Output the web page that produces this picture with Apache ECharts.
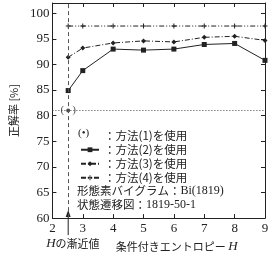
<!DOCTYPE html>
<html>
<head>
<meta charset="utf-8">
<script src="https://cdn.jsdelivr.net/npm/echarts@6/dist/echarts.min.js"></script>
<style>
  html, body {margin: 0; padding: 0; background: #fff;}
  #chart {width: 279px; height: 258px;}
</style>
</head>
<body>
<div id="chart"></div>
<script>
// x positions of the measured points (first one = asymptotic value of H)
const xValues = [2.52, 3, 4, 5, 6, 7, 8, 9];
const method1 = [[2.52, 81]];
const method2 = [84.9, 88.8, 93.0, 92.8, 93.0, 93.9, 94.1, 90.8];
const method3 = [91.4, 93.2, 94.2, 94.6, 94.4, 95.3, 95.5, 94.7];
const method4 = [97.5, 97.5, 97.5, 97.5, 97.5, 97.5, 97.5, 97.5];
const asymptoteH = 2.52;
const names = ['：方法(1)を使用', '：方法(2)を使用', '：方法(3)を使用', '：方法(4)を使用'];

const ink = '#222';
const serif = 'Liberation Serif';
const jp = 'Noto Sans CJK JP';
const plusIcon = 'path://M2,0h1v2h2v1h-2v2h-1v-2h-2v-1h2z';

const toPairs = (vals) => xValues.map((x, i) => [x, vals[i]]);

const myChart = echarts.init(document.getElementById('chart'), null, {renderer: 'canvas'});
myChart.setOption({
  backgroundColor: '#fff',
  animation: false,
  grid: {left: 43.5, right: 14, top: 3, bottom: 39},
  legend: {
    left: 75,
    top: 125,
    orient: 'vertical',
    itemWidth: 18,
    itemHeight: 6,
    itemGap: 2.5,
    textStyle: {fontFamily: jp, fontSize: 11.5, color: ink},
    data: [
      {name: names[0], icon: 'none'},
      {name: names[1]},
      {name: names[2]},
      {name: names[3]}
    ]
  },
  xAxis: [
    {
      type: 'value',
      min: 2,
      max: 9,
      interval: 1,
      name: '条件付きエントロピー {i|H}',
      nameLocation: 'middle',
      nameGap: 20,
      nameTextStyle: {
        fontFamily: jp, fontSize: 11, color: ink, padding: [0, 0, 0, 36],
        rich: {i: {fontFamily: serif, fontStyle: 'italic', fontSize: 13, color: ink}}
      },
      axisLine: {show: true, lineStyle: {color: ink, width: 1}},
      axisTick: {show: true, inside: true, length: 4, lineStyle: {color: ink}},
      axisLabel: {fontFamily: serif, fontSize: 13, color: ink, margin: 4},
      splitLine: {show: false}
    },
    {
      type: 'value',
      position: 'top',
      min: 2,
      max: 9,
      interval: 1,
      axisLine: {show: true, lineStyle: {color: ink, width: 1}},
      axisTick: {show: true, inside: true, length: 4, lineStyle: {color: ink}},
      axisLabel: {show: false},
      splitLine: {show: false}
    }
  ],
  yAxis: [
    {
      type: 'value',
      min: 60,
      max: 102,
      interval: 5,
      name: '正解率 [%]',
      nameLocation: 'middle',
      nameGap: 25,
      nameTextStyle: {fontFamily: jp, fontSize: 11, color: ink},
      axisLine: {show: true, lineStyle: {color: ink, width: 1}},
      axisTick: {show: true, inside: true, length: 4, lineStyle: {color: ink}},
      axisLabel: {fontFamily: serif, fontSize: 13, color: ink, margin: 3, showMaxLabel: false},
      splitLine: {show: false}
    },
    {
      type: 'value',
      position: 'right',
      min: 60,
      max: 102,
      interval: 5,
      axisLine: {show: true, lineStyle: {color: ink, width: 1}},
      axisTick: {show: true, inside: true, length: 4, lineStyle: {color: ink}},
      axisLabel: {show: false},
      splitLine: {show: false}
    }
  ],
  series: [
    {
      name: names[0],
      type: 'scatter',
      data: method1,
      symbol: 'circle',
      symbolSize: 4,
      itemStyle: {color: ink},
      label: {
        show: true, position: 'inside', formatter: '(   )',
        fontFamily: serif, fontSize: 11, color: ink
      },
      markLine: {
        silent: true,
        symbol: 'none',
        label: {show: false},
        lineStyle: {color: '#444', type: [1, 2], width: 1},
        data: [{yAxis: method1[0][1]}, {xAxis: asymptoteH, lineStyle: {type: [4, 3], color: '#555'}}]
      }
    },
    {
      name: names[1],
      type: 'line',
      data: toPairs(method2),
      symbol: 'rect',
      symbolSize: 5,
      itemStyle: {color: ink},
      lineStyle: {color: ink, width: 1}
    },
    {
      name: names[2],
      type: 'line',
      data: toPairs(method3),
      symbol: 'diamond',
      symbolSize: 5,
      itemStyle: {color: ink},
      lineStyle: {color: ink, width: 1, type: [5, 2, 1, 2]}
    },
    {
      name: names[3],
      type: 'line',
      data: toPairs(method4),
      symbol: plusIcon,
      symbolSize: 5,
      itemStyle: {color: ink},
      lineStyle: {color: ink, width: 1, type: [5, 2, 1, 2, 1, 2]}
    }
  ]
});

// annotations: asymptote arrow below the axis, legend extras
const ax = myChart.convertToPixel({xAxisIndex: 0}, asymptoteH);
const axisY = myChart.convertToPixel({yAxisIndex: 0}, 60);
myChart.setOption({
  graphic: [
    {type: 'line', shape: {x1: ax, y1: axisY - 2, x2: ax, y2: axisY + 17}, style: {stroke: ink, lineWidth: 1}},
    {type: 'polygon', shape: {points: [[ax - 2.5, axisY - 1], [ax + 2.5, axisY - 1], [ax, axisY - 8]]}, style: {fill: ink}},
    {
      type: 'text', left: ax - 22, top: axisY + 19,
      style: {
        text: '{i|H}の漸近値', fontFamily: jp, fontSize: 11, fill: ink,
        rich: {i: {fontFamily: serif, fontStyle: 'italic', fontSize: 13, fill: ink}}
      }
    },
    {type: 'text', left: 78, top: 128, style: {text: '(•)', fontFamily: serif, fontSize: 11, fill: ink}},
    {
      type: 'text', left: 77, top: 185,
      style: {
        text: '形態素バイグラム：{s|Bi(1819)}', fontFamily: jp, fontSize: 11.5, fill: ink,
        rich: {s: {fontFamily: serif, fontSize: 12, fill: ink}}
      }
    },
    {
      type: 'text', left: 77, top: 199,
      style: {
        text: '状態遷移図：{s|1819-50-1}', fontFamily: jp, fontSize: 11.5, fill: ink,
        rich: {s: {fontFamily: serif, fontSize: 12, fill: ink}}
      }
    }
  ]
});
</script>
</body>
</html>
